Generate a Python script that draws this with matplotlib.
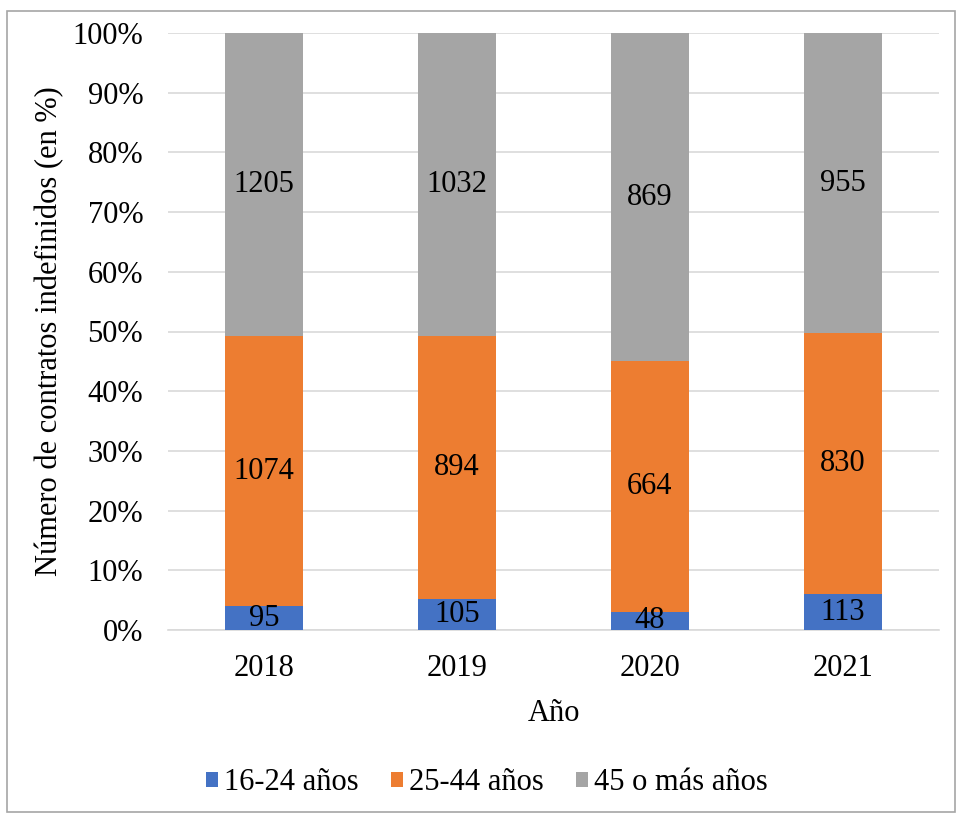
import numpy as np
import matplotlib.pyplot as plt
from matplotlib.patches import Rectangle

plt.rcParams['font.family'] = ['Liberation Serif', 'DejaVu Serif']

anios = ['2018', '2019', '2020', '2021']
grupos = ['16-24 años', '25-44 años', '45 o más años']
jovenes = [95, 105, 48, 113]
medios = [1074, 894, 664, 830]
mayores = [1205, 1032, 869, 955]
colores = ['#4472C4', '#ED7D31', '#A5A5A5']

datos = np.array([jovenes, medios, mayores], dtype=float)
totales = datos.sum(axis=0)
pct = datos / totales * 100

fs = 22
fig = plt.figure(figsize=(9.58, 8.14), dpi=100)
ax = fig.add_axes([167.5 / 958, 1 - 630 / 814, 772 / 958, 597 / 814])

x = np.arange(len(anios))
base = np.zeros(len(anios))
for i in range(3):
    ax.bar(x, pct[i], 0.4, bottom=base, color=colores[i], label=grupos[i], zorder=3)
    for j in range(len(anios)):
        ax.text(x[j], base[j] + pct[i][j] / 2, '%d' % datos[i][j],
                ha='center', va='center', fontsize=fs, color='black', zorder=4)
    base = base + pct[i]

ax.set_xlim(-0.5, 3.5)
ax.set_ylim(0, 100)
ax.set_yticks(np.arange(0, 101, 10))
ax.set_yticklabels(['%d%%' % v for v in range(0, 101, 10)])
ax.set_xticks(x)
ax.set_xticklabels(anios)
ax.tick_params(axis='both', length=0, labelsize=fs)
ax.tick_params(axis='y', pad=17.5)
ax.tick_params(axis='x', pad=17)
ax.grid(axis='y', color='#D9D9D9', linewidth=1.2, zorder=0)
for s in ['top', 'right', 'left']:
    ax.spines[s].set_visible(False)
ax.spines['bottom'].set_color('#D9D9D9')
ax.spines['bottom'].set_linewidth(1.2)

ax.set_xlabel('Año', fontsize=fs, labelpad=12)
ax.set_ylabel('Número de contratos indefinidos (en %)', fontsize=fs, labelpad=6)

fig.legend(loc='center', bbox_to_anchor=(487 / 958, 1 - 783 / 814), ncol=3,
           frameon=False, fontsize=fs, handlelength=0.4, handleheight=0.4,
           handletextpad=0.2, columnspacing=1.05)

fig.patches.append(Rectangle((7 / 958, 2 / 814), 948 / 958, 801 / 814,
                             transform=fig.transFigure, fill=False,
                             edgecolor='#A6A6A6', linewidth=1.2))

fig.savefig('out.png', dpi=100)
